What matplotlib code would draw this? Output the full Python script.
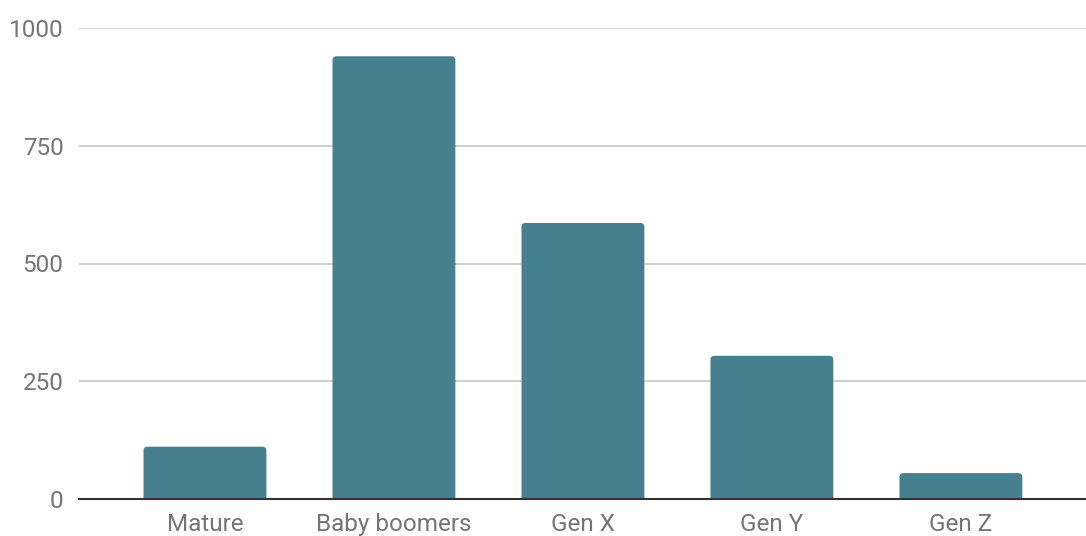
import matplotlib
matplotlib.use("Agg")
import matplotlib.pyplot as plt
from matplotlib.patches import FancyBboxPatch

categories = ["Mature", "Baby boomers", "Gen X", "Gen Y", "Gen Z"]
values = [111, 940, 586, 304, 55]
yticks = [0, 250, 500, 750, 1000]

plt.rcParams['font.family'] = ['Roboto', 'DejaVu Sans']

W, H = 1086, 536
fig = plt.figure(figsize=(W / 100, H / 100), dpi=100)
ax = fig.add_axes([78.7 / W, (H - 499) / H, 1 - 78.7 / W, (499 - 28) / H])

bar_color = "#46808e"
width = 0.65
xs = list(range(len(categories)))
ax.set_xlim(-0.668, 4.662)
ax.set_ylim(0, 1000)

# pixel scale for rounding
ax_w_px = W - 78.7
ax_h_px = 499 - 28
x_per_px = (4.662 + 0.668) / ax_w_px
y_per_px = 1000 / ax_h_px
r_px = 4
for x, v in zip(xs, values):
    p = FancyBboxPatch((x - width / 2, -30), width, v + 30,
                       boxstyle=f"round,pad=0,rounding_size={r_px * x_per_px}",
                       mutation_aspect=y_per_px / x_per_px,
                       facecolor=bar_color, edgecolor="none", zorder=3)
    ax.add_patch(p)

ax.set_yticks(yticks)
ax.set_yticklabels([str(t) for t in yticks])
ax.set_xticks(xs)
ax.set_xticklabels(categories)
ax.grid(axis="y", color="#cccccc", linewidth=1.3, zorder=0)
ax.grid(axis="x", visible=False)
for s in ["top", "right", "left"]:
    ax.spines[s].set_visible(False)
ax.spines["bottom"].set_color("#333333")
ax.spines["bottom"].set_linewidth(1.5)
ax.spines["bottom"].set_zorder(4)
ax.tick_params(axis="both", length=0, labelsize=17.5, labelcolor="#757575")
ax.tick_params(axis="y", pad=11)
ax.tick_params(axis="x", pad=10)

fig.savefig("out.png", dpi=100)
